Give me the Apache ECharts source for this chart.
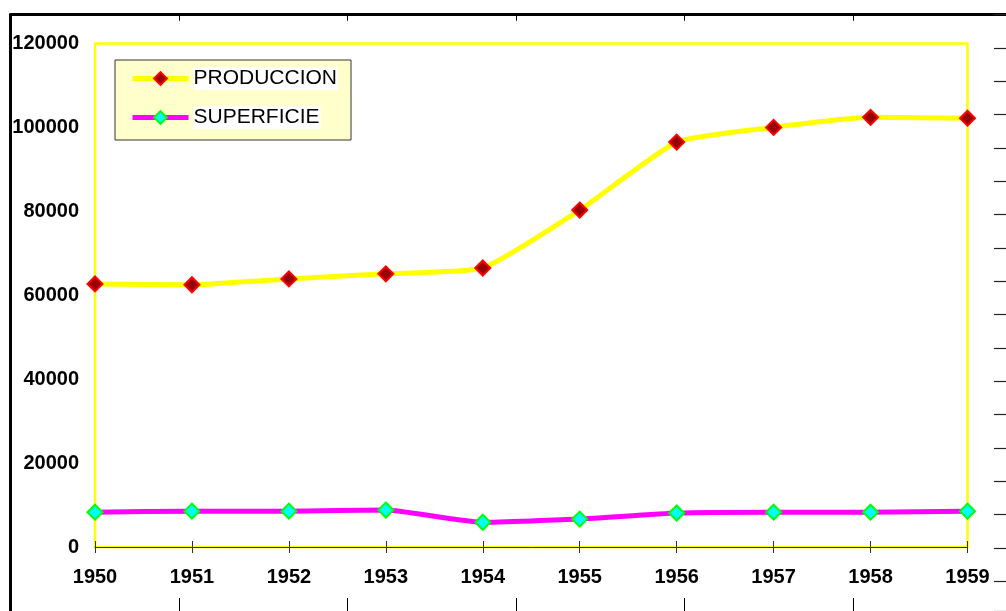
<!DOCTYPE html>
<html>
<head>
<meta charset="utf-8">
<script src="https://cdn.jsdelivr.net/npm/echarts@6/dist/echarts.min.js"></script>
<style>
    html, body { margin: 0; padding: 0; background: #fff; }
    #chart { width: 1006px; height: 611px; }
</style>
</head>
<body>
<div id="chart"></div>
<script>
// datos
var years = ['1950', '1951', '1952', '1953', '1954', '1955', '1956', '1957', '1958', '1959'];
var produccion = [62700, 62500, 63900, 65100, 66500, 80300, 96500, 100000, 102400, 102200];
var superficie = [8300, 8550, 8550, 8800, 5900, 6650, 8100, 8300, 8300, 8550];
var yTicks = [0, 20000, 40000, 60000, 80000, 100000, 120000];

var myChart = echarts.init(document.getElementById('chart'));

var option = {
    animation: false,
    backgroundColor: '#fff',
    textStyle: {fontFamily: 'Arial, "Liberation Sans", sans-serif'},
    grid: [
        // área de trazado
        {
            left: 95, right: 38.5, top: 43.5, bottom: 64,
            show: true,
            borderColor: '#ffff00',
            borderWidth: 2.5,
            backgroundColor: 'transparent'
        },
        // marco exterior con marcas
        {
            left: 10.5, right: 0, top: 14.7, bottom: 0
        }
    ],
    legend: {
        orient: 'vertical',
        left: 115,
        top: 60,
        padding: [7, 13, 11, 15],
        backgroundColor: '#ffffcc',
        borderColor: '#333',
        borderWidth: 1,
        itemWidth: 56,
        itemHeight: 16,
        itemGap: 16,
        lineStyle: {width: 5},
        textStyle: {
            fontSize: 21,
            color: '#000',
            backgroundColor: '#fff',
            padding: [1, 1, 1, 0]
        },
        data: ['PRODUCCION', 'SUPERFICIE']
    },
    xAxis: [
        {
            gridIndex: 0,
            type: 'category',
            data: years,
            boundaryGap: false,
            axisLine: {onZero: false, lineStyle: {color: '#333', width: 1}},
            axisTick: {show: true, inside: false, length: 6, lineStyle: {color: '#333'}},
            axisLabel: {fontSize: 20, fontWeight: 'bold', color: '#000', margin: 20},
            splitLine: {show: false}
        },
        {
            gridIndex: 0,
            type: 'category',
            data: years,
            boundaryGap: false,
            position: 'bottom',
            axisLine: {show: false, onZero: false},
            axisTick: {show: true, inside: true, length: 6, lineStyle: {color: '#333'}},
            axisLabel: {show: false},
            splitLine: {show: false}
        },
        {
            gridIndex: 1,
            type: 'value',
            position: 'top',
            min: 0,
            max: 5.908,
            interval: 1,
            axisLine: {show: true, onZero: false, lineStyle: {color: '#000', width: 3}},
            axisTick: {show: true, inside: true, length: 6, lineStyle: {color: '#000'}},
            axisLabel: {show: false},
            splitLine: {show: false}
        },
        {
            gridIndex: 1,
            type: 'value',
            position: 'bottom',
            min: 0,
            max: 5.908,
            interval: 1,
            axisLine: {show: false, onZero: false},
            axisTick: {show: true, inside: true, length: 13, lineStyle: {color: '#000'}},
            axisLabel: {show: false},
            splitLine: {show: false}
        }
    ],
    yAxis: [
        {
            gridIndex: 0,
            type: 'value',
            min: yTicks[0],
            max: yTicks[yTicks.length - 1],
            interval: yTicks[1] - yTicks[0],
            axisLine: {show: false, onZero: false},
            axisTick: {show: false},
            axisLabel: {
                fontSize: 20, fontWeight: 'bold', color: '#000', margin: 16,
                formatter: function (v) { return String(v); }
            },
            splitLine: {show: false}
        },
        {
            gridIndex: 1,
            type: 'value',
            position: 'left',
            min: 0,
            max: 1,
            axisLine: {show: true, onZero: false, lineStyle: {color: '#000', width: 3}},
            axisTick: {show: false},
            axisLabel: {show: false},
            splitLine: {show: false}
        },
        {
            gridIndex: 1,
            type: 'value',
            position: 'right',
            inverse: true,
            min: 0,
            max: 17.89,
            interval: 1,
            axisLine: {show: false, onZero: false},
            axisTick: {show: true, inside: true, length: 12, lineStyle: {color: '#222', width: 1.2}},
            axisLabel: {show: false},
            splitLine: {show: false}
        }
    ],
    series: [
        {
            name: 'PRODUCCION',
            type: 'line',
            xAxisIndex: 0,
            yAxisIndex: 0,
            data: produccion,
            smooth: 0.15,
            clip: false,
            symbol: 'diamond',
            symbolSize: 15,
            lineStyle: {color: '#ffff00', width: 5},
            itemStyle: {color: '#990000', borderColor: '#ff0000', borderWidth: 2}
        },
        {
            name: 'SUPERFICIE',
            type: 'line',
            xAxisIndex: 0,
            yAxisIndex: 0,
            data: superficie,
            smooth: 0.15,
            clip: false,
            symbol: 'diamond',
            symbolSize: 15,
            lineStyle: {color: '#ff00ff', width: 5},
            itemStyle: {color: '#00ffff', borderColor: '#00ff00', borderWidth: 2}
        }
    ]
};

myChart.setOption(option);
</script>
</body>
</html>
